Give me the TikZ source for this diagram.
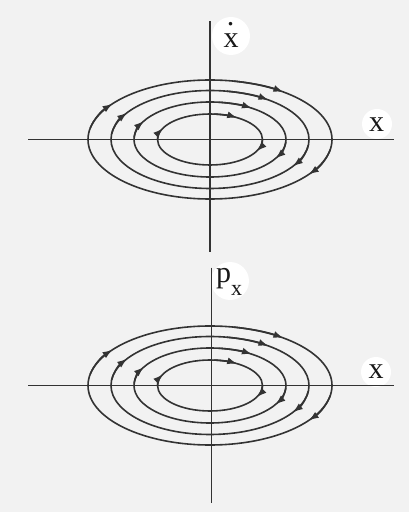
\documentclass[tikz,border=0pt]{standalone}
\usepackage{fontspec}
\setmainfont{Liberation Serif}
\usetikzlibrary{arrows.meta}
\begin{document}
\begin{tikzpicture}[x=1pt,y=1pt,
  axis/.style={line width=1.5pt, draw=black!80},
  orbit/.style={line width=1.6pt, draw=black!80},
  tipmark/.style={line width=1.6pt, draw=black!80, -{Latex[length=10pt,width=7pt]}},
  lbl/.style={font=\fontsize{30}{32}\selectfont, text=black!90, inner sep=0pt},
  halo/.style={fill=white}]
\fill[black!5] (0,0) rectangle (409,512);
\useasboundingbox (0,0) rectangle (409,512);
% white halos behind the labels
\fill[halo] (231,476) circle (19);
\fill[halo] (377,388) circle (15);
\fill[halo] (230,231) circle (19);
\fill[halo] (376,140) circle (15);
% labels
\node[lbl, anchor=base] (xdot) at (231,464) {x};
\node[lbl, anchor=base] (xdotacc) at (230.5,486) {.};
\node[lbl, anchor=base] (xtop) at (376.5,380) {x};
\node[lbl, anchor=base] (px) at (229,229) {p\raisebox{-0.42em}{\fontsize{22}{22}\selectfont x}};
\node[lbl, anchor=base] (xbot) at (376,133) {x};
% axes
\coordinate (tv1) at (210,491); \coordinate (tv2) at (210,260);
\coordinate (th1) at (28,372.7); \coordinate (th2) at (394,372.7);
\coordinate (bv1) at (211.5,244.3); \coordinate (bv2) at (211.5,9.3);
\coordinate (bh1) at (28,126.7); \coordinate (bh2) at (394,126.7);
\draw[axis] (tv1) -- (tv2);
\draw[axis] (th1) -- (th2);
\draw[axis] (bv1) -- (bv2);
\draw[axis] (bh1) -- (bh2);
% orbits
\foreach \cy in {372.5,126.5}{
  \foreach \rx/\ry/\a/\b/\c/\d in {122/59.5/144/54/-35/1, 99/49/148/55/-32/1.2, 76/37.5/152/58/-29/1.5, 52.5/25.5/156/61/-25/2.2}{
    \draw[orbit] (210,\cy) ellipse [x radius=\rx, y radius=\ry];
    \foreach \t in {\a,\b,\c}{
      \draw[tipmark] ({210+\rx*cos(\t+25)},{\cy+\ry*sin(\t+25)}) arc[start angle=\t+25, end angle=\t-\d, x radius=\rx, y radius=\ry];
    }
  }
}
\end{tikzpicture}
\end{document}
